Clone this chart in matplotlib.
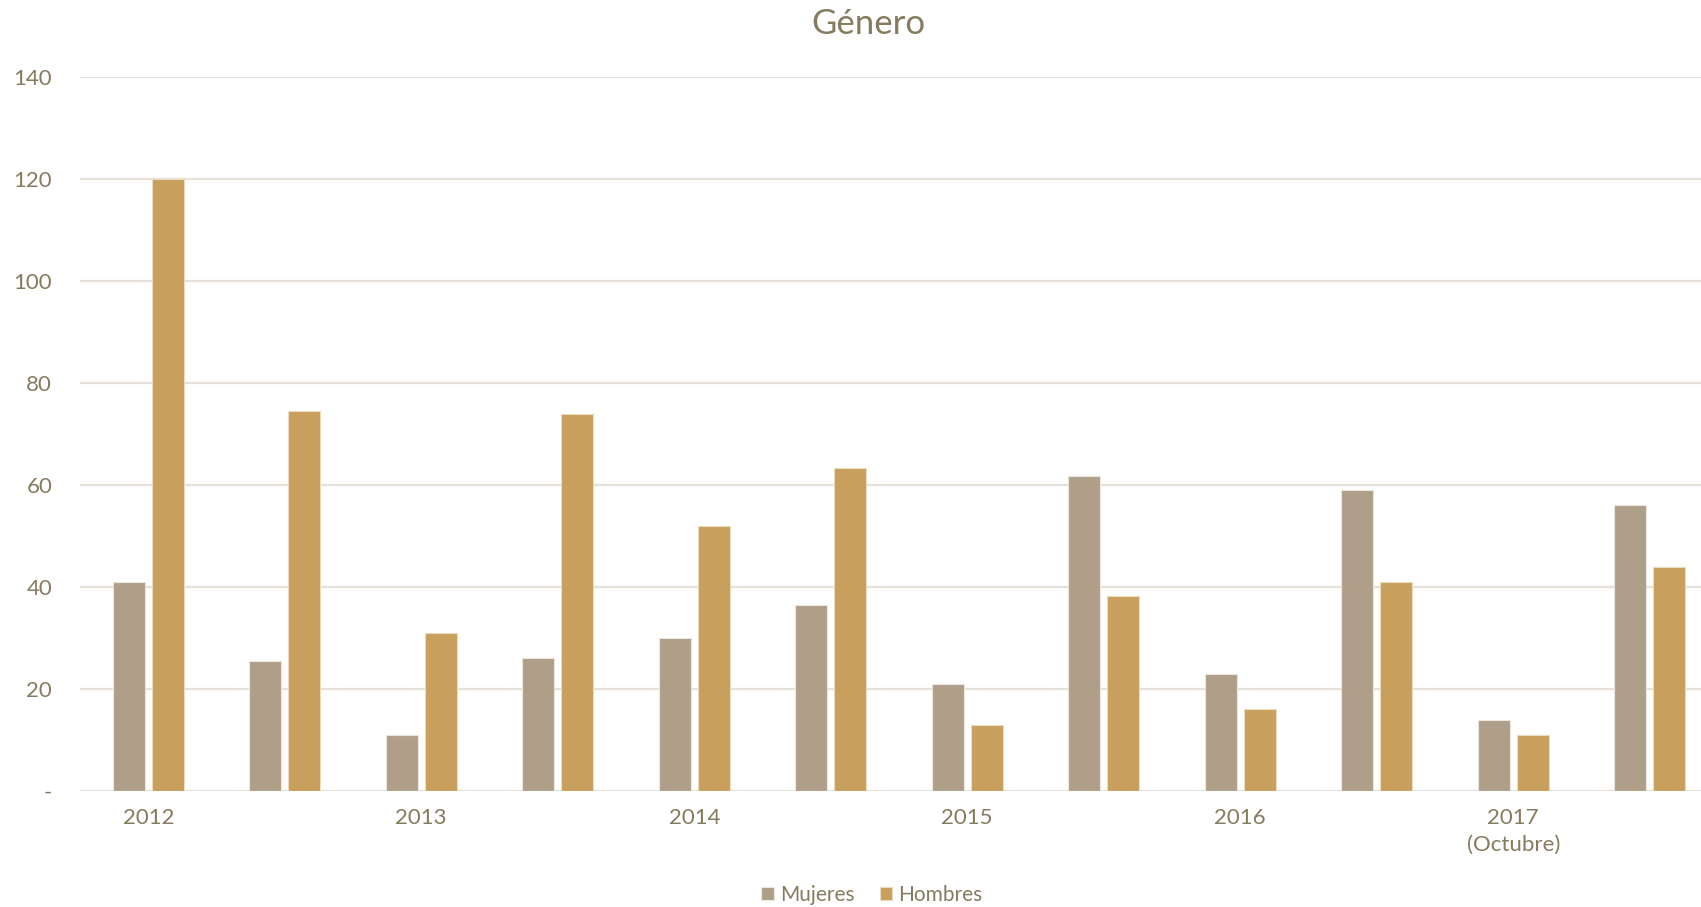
import matplotlib.pyplot as plt
import numpy as np

plt.rcParams['font.family'] = ['Lato', 'DejaVu Sans']

# данные с графика
categories = ['2012', '', '2013', '', '2014', '', '2015', '', '2016', '', '2017\n(Octubre)', '']
mujeres = [41, 25.4, 11, 26.1, 30, 36.5, 21, 61.8, 23, 59, 14, 56]
hombres = [120, 74.6, 31, 73.9, 52, 63.4, 13, 38.2, 16, 41, 11, 44]
yticks = [0, 20, 40, 60, 80, 100, 120, 140]
ytick_labels = ['-', '20', '40', '60', '80', '100', '120', '140']

text_color = '#857b5e'
grid_color = '#e6e2d9'
c_muj = '#b09f88'
c_hom = '#c89f5d'

fig = plt.figure(figsize=(17.01, 9.07), dpi=100)
ax = fig.add_axes([80 / 1701, 1 - 791 / 907, 1638 / 1701, (791 - 77) / 907])

x = np.arange(len(categories))
w = 0.232
off = 0.143
ax.bar(x - off, mujeres, w, color=c_muj, edgecolor='#ece6dc', linewidth=0.8, label='Mujeres', zorder=3)
ax.bar(x + off, hombres, w, color=c_hom, edgecolor='#ecdcbd', linewidth=0.8, label='Hombres', zorder=3)

ax.set_xlim(-0.5, len(categories) - 0.5)
ax.set_ylim(0, 140)
ax.set_yticks(yticks)
ax.set_yticklabels(ytick_labels)
ax.set_xticks(x)
ax.set_xticklabels(categories, linespacing=1.45, va='top')
ax.grid(axis='y', color=grid_color, linewidth=1.6, zorder=0)
ax.set_axisbelow(True)
for s in ax.spines.values():
    s.set_visible(False)
ax.tick_params(axis='both', length=0, colors=text_color, labelsize=16)
ax.tick_params(axis='y', pad=20)
ax.tick_params(axis='x', pad=12)

fig.text(868 / 1701, 1 - 24 / 907, 'Género', ha='center', va='center', fontsize=25, color=text_color)

fig.legend(loc='center', bbox_to_anchor=(872 / 1701, 1 - 895 / 907), ncol=2, frameon=False,
           fontsize=15, labelcolor=text_color, handlelength=0.6, handleheight=0.6,
           handletextpad=0.3, columnspacing=1.2)

fig.savefig('out.png', dpi=100)
